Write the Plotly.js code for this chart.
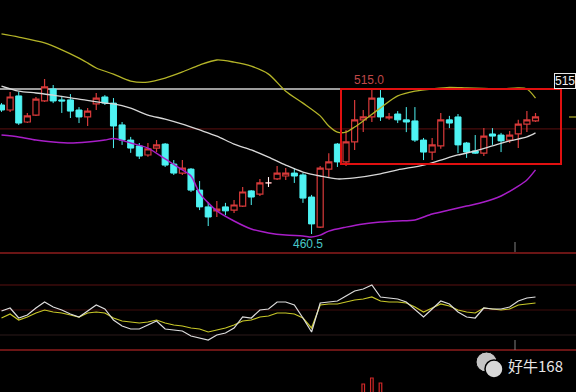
<!DOCTYPE html>
<html><head><meta charset="utf-8">
<script src="https://cdn.plot.ly/plotly-3.0.1.min.js"></script>
<style>html,body{margin:0;padding:0;background:#000;}#chart{width:576px;height:392px;}</style>
</head><body><div id="chart"></div>
<script>
// ---- candle data (index 0..62) ----
const openP  = [509.0,507.1,512.4,502.6,505.2,510.5,515.0,510.9,510.9,507.1,504.5,509.4,512.0,509.7,501.5,495.8,493.6,490.2,492.8,494.3,486.8,483.4,484.9,477.0,470.7,469.2,470.7,469.5,471.0,476.7,475.5,479.7,481.2,482.3,483.4,482.7,474.4,463.1,484.9,494.3,487.6,495.1,503.4,504.5,511.6,504.1,505.6,503.4,503.0,495.8,491.3,493.6,503.4,504.5,494.7,491.7,490.9,498.1,497.7,495.8,498.1,501.8,503.0];
const highP  = [509.7,513.9,513.9,506.0,512.0,518.8,516.5,512.4,513.1,508.2,507.9,513.5,512.7,511.6,502.6,497.0,494.7,494.7,495.8,494.7,488.3,488.3,485.3,480.4,472.5,472.9,472.2,473.3,478.2,477.0,481.2,481.9,486.1,485.3,485.3,483.4,475.2,486.1,490.9,494.7,499.6,510.9,507.1,515.0,514.6,506.0,506.7,508.2,508.2,496.6,496.6,506.0,504.9,505.6,495.1,497.7,500.3,500.3,498.5,499.2,503.4,506.7,506.0];
const lowP   = [506.4,506.4,501.5,502.2,504.9,510.1,509.7,506.0,504.1,502.2,501.1,507.1,509.0,492.8,494.0,491.0,488.7,489.5,491.3,485.7,482.7,482.7,476.3,469.5,463.5,466.9,467.6,468.4,470.7,471.4,474.8,478.2,480.8,480.8,479.7,472.2,460.5,462.8,481.9,485.7,486.1,492.1,498.8,502.6,503.0,503.4,502.2,498.8,495.1,488.3,488.3,492.5,500.3,490.9,489.1,490.6,489.8,494.0,491.3,494.7,492.8,498.8,502.6];
const closeP = [507.1,512.0,502.2,504.9,511.2,515.8,510.5,510.5,506.7,504.5,506.7,511.6,509.7,501.1,495.8,492.8,489.8,492.5,494.0,486.4,483.4,485.3,477.0,470.7,466.9,469.9,469.2,471.4,476.3,474.4,479.7,479.7,483.4,483.4,482.3,474.0,464.3,485.3,487.6,487.6,495.1,503.4,504.5,511.6,504.5,504.5,503.4,502.6,495.8,491.3,494.0,503.4,502.2,494.0,491.3,490.9,497.3,497.3,495.5,497.7,501.8,503.4,504.5];
const dojiIndex = 31;

// ---- Bollinger bands ----
const upX = [0,2,5,7,9,10,11,13,15,17,19,21,23,25,27,29,31,33,35,37,38,39,40,41,42,44,46,48,50,52,54,56,58,60,61,62];
const upY = [535.7,534.5,532.3,529.7,526.6,524.8,522.9,520.6,518.0,517.6,519.1,521.4,524.0,525.9,525.1,523.6,520.6,514.2,509.7,504.9,501.1,498.8,498.8,500.7,503.0,507.9,512.4,514.2,515.0,515.6,515.4,515.2,515.0,515.4,515.0,511.6];
const midX = [0,2,4,6,9,12,13,15,17,19,21,23,25,27,29,31,33,35,37,39,41,44,46,49,51,53,55,57,59,61,62];
const midY = [516.1,514.2,513.5,512.7,511.2,509.7,509.4,507.8,505.2,503.7,501.8,499.6,497.3,494.3,492.1,489.4,486.4,483.8,482.3,481.2,481.6,483.1,484.6,486.4,488.3,490.2,491.7,493.6,495.5,497.0,498.5];
const lowX = [0,2,4,6,8,10,12,13,15,17,19,21,22,23,24,25,27,29,31,33,35,36,37,38,40,42,44,46,48,50,52,54,56,58,60,61,62];
const lowY = [497.7,497.0,495.8,495.1,494.7,495.1,495.8,496.4,494.7,492.8,488.7,484.6,482.3,475.9,472.2,469.2,465.4,462.4,460.9,460.1,459.8,459.4,460.1,461.6,463.1,464.3,465.0,465.4,465.8,468.0,469.5,471.0,472.5,474.8,478.5,480.8,484.6];

// ---- lower indicator panel ----
const indWhite = [48.8,52.4,40.4,44,52.4,59.6,53.6,50,45.2,41.6,48.8,56,51.2,38,30.8,27.2,27.2,32,36.8,27.2,26,24.8,18.8,16.4,14,20,22.4,28.4,41.6,40.4,50,51.2,59.6,59.6,56,40.4,23.6,58.4,59.6,60.8,66.8,72.8,75.2,80,65.6,64.4,63.2,59.6,50,41.6,51.2,60.8,57.2,47.6,41.6,40.4,52.4,51.2,51.2,53.6,60.8,64.4,65.6];
const indYellow = [40.4,45.2,38,41.6,46.4,50,47.6,46.4,44,41.6,46.4,47.6,46.4,40.4,36.8,35.6,34.4,35.6,38,34.4,32,30.8,28.4,27.2,23.6,26,28.4,32,36.8,38,41.6,42.8,46.4,46.4,45.2,40.4,28.4,56,57.2,57.2,59.6,62,63.2,65.6,60.8,59.6,59.6,58.4,53.6,47.6,52.4,57.2,54.8,50,47.6,46.4,52.4,51.2,50,51.2,56,57.2,58.4];
const indLevels = [80,50,20];

// ---- volume (only the visible tops) ----
const volX = [42,43,44];
const volY = [840,870,845];

// ---- labels ----
const priceLevels = [515,500];
const hiLabel = {i:42.7, v:515.0, text:'515.0'};
const loLabel = {i:35.6, v:460.5, text:'460.5'};
const sideLabel = '515';
const watermark = '好牛168';

const idx = openP.map((_,i)=>i);
const W=576,H=392;
const px = x => x/W, py = y => 1 - y/H;
const xi = x => (x-1.5)/8.613;

const traces = [];
traces.push({type:'scatter',mode:'lines',x:upX,y:upY,line:{color:'#b4b428',width:1.3,shape:'spline',smoothing:0.8},hoverinfo:'skip'});
traces.push({type:'scatter',mode:'lines',x:midX,y:midY,line:{color:'#d8d8d8',width:1.3,shape:'spline',smoothing:0.8},hoverinfo:'skip'});
traces.push({type:'scatter',mode:'lines',x:lowX,y:lowY,line:{color:'#a81ec8',width:1.5,shape:'spline',smoothing:0.8},hoverinfo:'skip'});
traces.push({type:'candlestick',x:idx,open:openP,high:highP,low:lowP,close:closeP,
  increasing:{line:{color:'#d83a3a',width:1.2},fillcolor:'#000000'},
  decreasing:{line:{color:'#4ef2f2',width:1},fillcolor:'#4ef2f2'},
  whiskerwidth:0,hoverinfo:'skip'});
// doji drawn in white from the data arrays
const d = dojiIndex;
traces.push({type:'scatter',mode:'lines',x:[d,d,null,d-0.35,d+0.35],y:[lowP[d],highP[d],null,openP[d],closeP[d]],line:{color:'#ffffff',width:1},hoverinfo:'skip'});
// indicator lines
traces.push({type:'scatter',mode:'lines',x:idx,y:indYellow,yaxis:'y2',line:{color:'#c8c828',width:1.2},hoverinfo:'skip'});
traces.push({type:'scatter',mode:'lines',x:idx,y:indWhite,yaxis:'y2',line:{color:'#dcdcdc',width:1.2},hoverinfo:'skip'});
// volume
traces.push({type:'bar',x:volX,y:volY,yaxis:'y3',width:0.3,marker:{color:'#000',line:{color:'#d02828',width:1.2}},hoverinfo:'skip'});

const shapes = [];
// price level lines
shapes.push({type:'line',xref:'x',yref:'y',x0:xi(0),x1:xi(553),y0:priceLevels[0],y1:priceLevels[0],line:{color:'#d0d0d0',width:1.3},layer:'below'});
shapes.push({type:'line',xref:'paper',yref:'y',x0:0,x1:1,y0:priceLevels[1],y1:priceLevels[1],line:{color:'#4a0c0c',width:1.2},layer:'below'});
// indicator level lines
const lvlColors=['#5a1010','#3e0c0c','#2c1a1a'];
indLevels.forEach((v,k)=>shapes.push({type:'line',xref:'paper',yref:'y2',x0:0,x1:1,y0:v,y1:v,line:{color:lvlColors[k],width:1.2},layer:'below'}));
// panel separators
[253,350].forEach(y=>shapes.push({type:'line',xref:'paper',yref:'paper',x0:0,x1:1,y0:py(y),y1:py(y),line:{color:'#8e1c1c',width:1.6}}));
// red highlight box
shapes.push({type:'rect',xref:'x',yref:'paper',x0:xi(341),x1:xi(561),y0:py(89),y1:py(164),line:{color:'#e01010',width:2}});
// small gray ticks
shapes.push({type:'line',xref:'paper',yref:'paper',x0:px(515),x1:px(515),y0:py(242),y1:py(252),line:{color:'#808080',width:1}});
shapes.push({type:'line',xref:'paper',yref:'paper',x0:px(515),x1:px(515),y0:py(340),y1:py(350),line:{color:'#808080',width:1}});
// small yellow mark at right edge
shapes.push({type:'line',xref:'paper',yref:'paper',x0:px(569),x1:px(576),y0:py(117),y1:py(117),line:{color:'#b4b428',width:1.2}});
// watermark icon (two bubbles)
shapes.push({type:'circle',xref:'paper',yref:'paper',x0:px(476),x1:px(497),y0:py(372),y1:py(352),fillcolor:'#c4c4c4',line:{color:'#000',width:1}});
shapes.push({type:'circle',xref:'paper',yref:'paper',x0:px(485),x1:px(503),y0:py(378),y1:py(360),fillcolor:'#d8d8d8',line:{color:'#000',width:1.5}});

const font = 'Liberation Sans, Arial, sans-serif';
const annotations = [
  {xref:'x',yref:'y',x:hiLabel.i,y:hiLabel.v,text:hiLabel.text,showarrow:false,yanchor:'bottom',yshift:0,font:{family:font,size:12,color:'#c04848'}},
  {xref:'x',yref:'y',x:loLabel.i,y:loLabel.v,text:loLabel.text,showarrow:false,yanchor:'top',yshift:-1,font:{family:font,size:12,color:'#48c8c8'}},
  {xref:'paper',yref:'y',x:1,y:priceLevels[0],text:sideLabel,showarrow:false,xanchor:'right',yanchor:'bottom',bgcolor:'#000',bordercolor:'#e8e8e8',borderwidth:1,borderpad:0,font:{family:font,size:12,color:'#f0f0f0'}},
  {xref:'paper',yref:'paper',x:px(506),y:py(365),text:watermark,showarrow:false,xanchor:'left',yanchor:'middle',font:{family:'Noto Sans CJK SC, sans-serif',size:15,color:'#e6e6e6'}}
];

const layout = {
  width:W,height:H,margin:{l:0,r:0,t:0,b:0,pad:0},
  paper_bgcolor:'#000',plot_bgcolor:'#000',showlegend:false,
  xaxis:{range:[xi(0),xi(576)],visible:false,rangeslider:{visible:false},fixedrange:true},
  yaxis:{domain:[py(253),1],range:[515-(253-89)/2.661,515+89/2.661],visible:false,fixedrange:true},
  yaxis2:{domain:[py(350),py(253)],range:[2,118.4],visible:false,fixedrange:true},
  yaxis3:{domain:[0,py(352)],range:[800,1000],visible:false,fixedrange:true},
  boxgap:0.3,boxgroupgap:0,
  shapes:shapes,annotations:annotations,bargap:0
};
Plotly.newPlot('chart',traces,layout,{displayModeBar:false,staticPlot:true});
</script></body></html>
